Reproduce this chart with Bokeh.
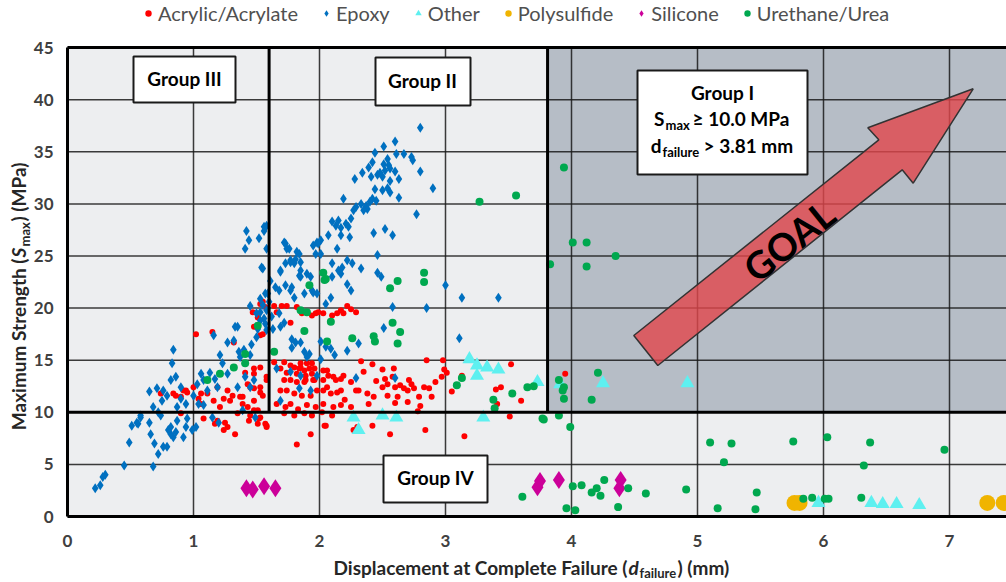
import math
from bokeh.plotting import figure
from bokeh.models import (ColumnDataSource, Legend, LegendItem, Label, BoxAnnotation)
from bokeh.core.properties import value
from bokeh.embed import file_html
from bokeh.resources import INLINE

# ---------------- data ----------------
epoxy_x = [2.80,2.60,2.51,2.44,2.61,2.67,2.73,2.74,2.54,2.42,2.39,2.51,2.55,2.56,2.52,2.48,2.46,2.60,2.63,2.56,2.50,2.34,2.28,2.41,2.80,2.90,2.44,2.50,2.54,2.56,2.63,2.19,2.45,2.42,2.33,2.37,2.29,2.27,2.38,2.35,2.40,2.77,2.25,2.10,2.15,2.13,2.17,2.21,2.23,2.52,2.58,2.43,2.07,2.17,2.24,1.98,2.01,1.72,1.74,2.14,1.95,1.97,2.01,2.46,1.82,1.77,1.80,1.85,2.22,2.26,2.10,2.18,2.33,2.17,2.46,2.49,1.84,1.93,2.22,2.25,1.95,3.00,3.13,1.78,
           1.42,1.44,1.41,1.52,1.56,1.58,1.58,1.54,1.61,1.69,1.76,1.73,1.77,1.81,1.84,1.90,1.85,1.65,1.73,1.59,2.10,2.15,
           0.84,0.83,0.65,0.71,0.76,0.82,0.86,0.79,0.75,0.68,0.72,0.58,0.55,0.51,0.65,0.66,0.82,0.86,0.84,0.92,0.94,0.95,0.87,0.90,0.94,0.90,1.00,1.02,1.03,1.06,1.08,1.13,1.17,1.11,1.19,1.27,1.23,1.27,1.32,1.16,1.21,1.35,1.37,1.41,1.35,1.45,1.45,1.53,1.56,1.51,1.58,1.57,1.53,1.39,
           1.55,1.56,1.73,1.69,1.85,1.68,1.99,1.33,
           0.22,0.26,0.28,0.30,0.45,0.68,0.49,0.56,0.58,0.69,0.72,0.76,0.79,0.80,0.82,0.87,0.99,0.74,1.08,1.04,1.15,1.20,
           3.42,2.58,2.85,2.51,2.31,3.11,2.60,2.22,
           1.78,1.81,1.85,1.78,1.88,1.92,1.90,2.01,2.05,2.09,2.12,2.01,1.72,1.69,1.68,1.77,1.80,1.88,1.94,1.98,2.09,2.05,1.66,1.77,1.85,1.98,1.84,1.69,1.93,2.29,1.50,1.53,1.45,1.48,1.49,
           1.55,1.58,1.60,1.62,1.57,1.63,1.50,1.46,1.40,1.36]
epoxy_y = [37.3,36.0,35.5,34.9,34.8,34.8,34.5,34.2,34.3,34.0,33.5,33.8,33.7,33.4,33.2,33.0,32.8,33.1,32.4,32.2,32.6,33.0,32.4,32.6,33.1,31.5,31.4,31.3,31.5,31.1,30.6,30.5,30.3,30.5,30.0,29.8,29.7,29.4,29.5,29.4,30.2,29.0,28.6,28.3,28.4,27.9,27.7,28.1,27.8,27.6,27.0,27.2,27.0,27.0,26.8,26.3,26.5,26.3,25.7,25.7,26.0,25.2,25.2,25.1,25.4,24.6,24.3,24.4,24.6,24.3,24.3,23.9,23.8,23.3,23.4,23.0,23.1,23.0,22.3,21.7,21.5,22.2,21.0,22.0,
           27.4,26.5,25.7,26.7,27.4,27.9,25.7,23.9,22.6,23.6,25.7,24.3,24.4,24.7,25.2,23.3,23.0,22.0,22.2,21.4,23.0,23.6,
           16.0,14.7,12.0,12.3,12.1,13.1,13.4,11.6,11.1,10.5,10.0,9.7,9.0,8.7,9.0,7.9,8.6,8.1,7.6,7.6,8.6,9.4,10.5,11.3,10.8,12.4,11.6,8.6,12.7,13.7,13.1,13.8,13.2,12.1,12.4,13.7,14.7,16.7,16.9,17.4,15.5,18.2,15.3,13.4,12.4,12.4,20.2,19.6,19.0,18.0,17.9,21.4,20.9,10.2,
           23.8,27.8,26.2,23.5,23.6,21.7,26.2,18.2,
           2.7,3.0,3.8,4.0,4.9,4.8,7.1,8.9,9.5,7.0,6.0,6.7,6.7,8.3,7.9,9.2,8.3,9.7,10.7,10.8,9.5,9.0,
           21.0,20.1,20.0,18.1,16.6,17.1,13.3,15.9,
           17.0,16.7,16.7,16.2,15.8,15.6,15.3,16.8,16.3,16.1,15.5,15.1,18.6,18.2,19.5,21.7,21.0,21.4,21.7,21.4,21.0,20.4,14.2,13.9,13.5,13.5,12.3,11.1,12.1,13.3,19.5,18.8,15.5,13.1,9.5,
           20.3,19.8,20.6,19.2,18.5,18.0,17.2,16.5,16.0,15.8]

acrylic_x = [2.22,2.25,2.29,2.17,2.14,2.19,2.10,2.03,1.99,1.97,1.94,1.90,1.86,1.82,1.74,1.70,1.66,1.64,1.77,1.53,1.57,1.51,1.48,1.55,2.33,
             2.50,2.59,2.58,2.52,2.54,2.50,2.60,2.64,2.67,2.71,2.73,2.75,2.70,2.83,2.87,2.89,2.79,2.85,2.31,2.38,2.43,2.39,2.54,2.62,
             2.05,1.93,1.82,2.30,2.42,2.56,2.84,
             1.69,1.74,1.80,1.84,1.88,1.92,1.94,1.72,1.77,1.82,1.89,1.95,2.03,2.07,2.13,2.17,1.69,1.74,1.80,1.86,1.93,1.98,2.03,2.09,2.14,1.66,1.73,1.77,1.83,1.90,1.97,2.03,2.11,2.17,1.72,1.80,1.88,1.94,2.02,2.10,1.64,1.72,1.85,1.94,2.06,
             1.02,1.15,1.32,0.74,0.86,0.92,1.08,1.17,1.25,1.33,1.24,1.31,1.37,1.19,1.43,1.48,1.53,1.55,1.48,1.43,1.39,1.51,1.45,1.44,1.52,1.57,1.53,1.48,1.41,1.58,0.94,1.04,1.06,1.55,1.47,1.53,
             1.24,2.04,2.27,3.15,3.51,1.58,
             2.98,2.99,3.01,2.97,3.13,3.52,3.44,3.40,3.41,3.60,3.95,2.78,
             1.48,1.58,1.45,1.53,1.39,1.48,1.53,1.51,1.58,1.35,1.29,1.27,1.21,1.16,1.11,1.00,0.95,0.90,0.84,0.90,1.06,1.19,1.27,
             1.77,1.85,1.90,1.96,1.82,1.89,1.88,1.96,2.03,2.11,2.19,2.25,2.06,2.17,2.29,
             2.35,2.42,2.45,2.20,2.25,2.60,2.70,2.80,2.92,3.05]
acrylic_y = [20.2,19.9,19.6,19.8,19.5,19.5,19.3,19.5,19.6,19.5,19.3,19.6,19.5,20.1,20.2,20.2,19.6,20.2,18.6,20.4,20.1,19.1,18.2,17.5,14.9,
             14.1,14.2,13.4,13.2,12.7,12.4,12.4,12.6,12.3,13.1,12.7,12.3,12.1,12.4,12.3,11.5,11.5,15.0,12.1,11.8,11.5,10.8,11.6,11.5,
             8.7,7.9,6.9,8.6,8.7,7.9,8.3,
             14.2,13.8,14.3,14.2,14.0,14.2,13.7,13.1,13.1,12.9,13.1,13.1,13.1,13.5,13.1,13.2,12.1,12.1,11.8,11.6,11.6,12.1,12.1,11.8,11.9,10.8,10.5,10.8,10.3,10.7,10.5,10.8,10.5,10.7,9.9,9.7,9.9,9.7,10.0,9.7,14.8,14.8,14.7,14.7,14.0,
             17.5,17.7,16.7,11.8,11.6,12.1,9.4,8.9,9.0,7.9,11.3,11.6,11.5,12.4,12.7,12.3,12.4,11.6,11.1,10.5,10.8,10.2,9.7,9.2,9.4,8.9,14.3,14.2,13.8,13.4,12.1,11.3,11.8,20.6,19.6,17.4,
             8.3,8.7,8.3,7.7,9.6,8.7,
             15.0,14.1,13.8,13.4,13.5,14.6,12.4,12.2,10.8,11.1,13.7,10.1,
             13.7,13.1,12.4,11.9,11.5,10.2,9.5,8.9,8.6,9.9,11.1,12.1,10.5,11.1,11.8,12.4,11.9,11.5,11.8,9.9,10.8,9.2,8.6,
             14.5,14.3,14.7,14.2,13.7,13.5,12.9,13.1,14.0,13.4,13.5,12.9,12.4,12.1,12.1,
             13.9,14.6,13.0,11.2,10.5,10.9,11.0,10.6,12.9,12.0]

other_x = [3.19,3.25,3.25,3.33,3.42,3.73,3.91,4.25,4.92,2.27,2.31,2.50,2.61,3.30,5.96,6.38,6.47,6.58,6.76]
other_y = [15.1,14.5,13.5,14.3,14.1,12.9,12.7,12.8,12.8,9.5,8.3,9.7,9.5,9.5,1.3,1.3,1.2,1.2,1.1]

polysulfide_x = [5.77,5.81,7.30,7.43]
polysulfide_y = [1.3,1.3,1.3,1.3]

silicone_x = [1.42,1.47,1.56,1.65,3.73,3.75,3.90,4.39,4.38]
silicone_y = [2.7,2.6,2.9,2.7,2.8,3.4,3.5,3.5,2.7]

urethane_x = [3.94,4.01,4.12,3.83,4.12,4.35,3.90,3.93,3.94,4.16,4.21,3.90,3.94,3.27,3.56,2.83,2.83,2.62,2.56,1.92,2.03,2.04,2.09,2.58,2.64,2.62,2.26,2.43,2.44,2.06,3.13,3.09,3.53,3.38,3.39,3.65,3.70,3.77,3.99,2.05,1.85,1.90,1.88,1.51,1.64,1.41,1.41,1.32,1.21,1.11,
              3.61,4.01,4.08,3.96,4.03,4.16,4.20,4.23,4.26,4.37,4.45,4.59,4.91,5.10,5.27,5.21,5.16,5.47,5.46,5.76,5.84,5.91,6.01,6.04,6.03,6.30,6.37,6.32,6.96,3.78]
urethane_y = [33.5,26.3,26.3,24.2,24.0,25.0,13.1,12.1,11.3,11.2,13.8,9.7,12.4,30.2,30.8,23.4,22.5,22.6,21.9,22.2,23.4,22.7,18.7,18.6,17.7,16.6,17.1,17.3,16.8,16.8,13.3,12.6,11.8,11.2,10.4,12.4,12.5,9.4,8.6,22.8,19.8,19.6,17.8,18.3,15.8,15.6,14.7,14.3,13.7,13.1,
              1.9,2.9,3.0,0.8,0.6,2.3,2.7,2.0,3.5,0.9,2.7,2.2,2.6,7.1,7.0,5.2,0.8,2.3,0.7,7.2,1.7,1.8,1.7,1.7,7.6,1.8,7.1,4.9,6.4,9.3]

x_ticks = [0, 1, 2, 3, 4, 5, 6, 7]
y_ticks = [0, 5, 10, 15, 20, 25, 30, 35, 40, 45]
s_max_limit = 10.0
d_fail_limit = 3.81
group3_limit = 1.6

# ---------------- geometry (page pixels of the reference) ----------------
W, H = 1006, 582
X0, Y0 = 67, 516          # page px of data origin
SX, SY = 126.0, 10.42     # px per unit
def dx(px): return (px - X0) / SX
def dy(py): return (Y0 - py) / SY
x_end = dx(W)
y_top = y_ticks[-1]

FONT = "Lato"
p = figure(width=W, height=H, output_backend="svg", toolbar_location=None,
           x_range=(dx(0), dx(W)), y_range=(dy(H), dy(0)),
           min_border=0, background_fill_color="white", border_fill_color="white")
p.outline_line_color = None
p.axis.visible = False
p.grid.visible = False

# plot-area background and Group I shading
p.add_layout(BoxAnnotation(left=0, right=x_end, bottom=0, top=y_top,
                           fill_color="#edeef0", fill_alpha=1.0, line_color=None, level="image"))
p.add_layout(BoxAnnotation(left=d_fail_limit, right=x_end, bottom=s_max_limit, top=y_top,
                           fill_color="#b6bdc6", fill_alpha=1.0, line_color=None, level="image"))

# grid lines from the tick lists
gv = [t for t in x_ticks if t > 0]
rg = p.segment(x0=gv, y0=[0] * len(gv), x1=gv, y1=[y_top] * len(gv),
               line_color="#1a1a1a", line_width=1.5, line_alpha=0.85)
rg.level = "underlay"
rh = p.segment(x0=[0] * len(y_ticks), y0=y_ticks, x1=[x_end] * len(y_ticks), y1=y_ticks,
               line_color="#1a1a1a", line_width=1.5, line_alpha=0.85)
rh.level = "underlay"

# tick labels from the tick lists
p.text(x=x_ticks, y=[dy(540)] * len(x_ticks), text=[str(t) for t in x_ticks],
       text_align="center", text_baseline="middle", text_font=value(FONT),
       text_font_style="bold", text_font_size="17px", text_color="#404040")
p.text(x=[dx(53)] * len(y_ticks), y=y_ticks, text=[str(t) for t in y_ticks],
       text_align="right", text_baseline="middle", text_font=value(FONT),
       text_font_style="bold", text_font_size="17px", text_color="#404040")

# ---------------- scatter ----------------
def src(x, y): return ColumnDataSource(dict(x=x, y=y))
r_acr = p.scatter("x", "y", source=src(acrylic_x, acrylic_y), marker="circle", size=6,
                  fill_color="#ff0000", line_color=None)
r_epo = p.scatter("x", "y", source=src(epoxy_x, epoxy_y), marker="diamond", size=10,
                  fill_color="#0070c0", line_color=None)
r_oth = p.scatter("x", "y", source=src(other_x, other_y), marker="triangle", size=14,
                  fill_color="#5ef0f0", line_color=None)
r_pol = p.scatter("x", "y", source=src(polysulfide_x, polysulfide_y), marker="circle", size=16,
                  fill_color="#f0b400", line_color=None)
r_sil = p.scatter("x", "y", source=src(silicone_x, silicone_y), marker="diamond", size=18,
                  fill_color="#cc0099", line_color=None)
r_ure = p.scatter("x", "y", source=src(urethane_x, urethane_y), marker="circle", size=8,
                  fill_color="#00a84f", line_color=None)

# heavy group boundary lines and frame borders (left, top, bottom)
p.segment(x0=[group3_limit, d_fail_limit, 0, 0, 0, 0],
          y0=[s_max_limit, s_max_limit, s_max_limit, 0, y_top, 0],
          x1=[group3_limit, d_fail_limit, x_end, x_end, x_end, 0],
          y1=[y_top, y_top, s_max_limit, 0, y_top, y_top],
          line_color="black", line_width=3)

# GOAL arrow
arrow_px = [(633.3, 335), (878.3, 139.3), (867.3, 127.3), (972.7, 88.3),
            (912.7, 182.7), (901.7, 169.3), (657.3, 365)]
p.patch([dx(a) for a, b in arrow_px], [dy(b) for a, b in arrow_px],
        fill_color="#e2464b", fill_alpha=0.8, line_color="#333333", line_width=1.5)
p.add_layout(Label(x=dx(788), y=dy(240), text="GOAL", angle=0.674, text_align="center",
                   text_baseline="middle", text_font=FONT, text_font_style="bold",
                   text_font_size="38px", text_color="black"))

# group boxes
def box(l, t, r, b):
    p.add_layout(BoxAnnotation(left=dx(l), right=dx(r), top=dy(t), bottom=dy(b),
                               fill_color="white", fill_alpha=1.0, line_color="#1a1a1a",
                               line_width=2, line_alpha=1.0))
def txt(px, py, s, size="19px", style="bold", align="center", angle=0.0, color="black"):
    p.add_layout(Label(x=dx(px), y=dy(py), text=s, text_align=align, text_baseline="middle",
                       text_font=FONT, text_font_style=style, text_font_size=size,
                       text_color=color, angle=angle))

box(133, 56, 235, 102); txt(184, 78, "Group III")
box(375, 57, 470, 105); txt(422, 80, "Group II")
box(383, 455, 487, 502); txt(435, 477, "Group IV")
box(637, 70, 807, 174); txt(722, 92, "Group I")
txt(664, 118, "S", align="right")
txt(665, 124, "max", size="13px", align="left")
txt(692, 118, "\u2265 10.0 MPa", align="left")
txt(661, 145, "d", align="right")
txt(662, 151, "failure", size="13px", align="left")
txt(703, 145, "> 3.81 mm", align="left")

# axis titles (composed for subscript / italics)
TC = "#262626"
txt(627, 567, "Displacement at Complete Failure (", align="right", color=TC)
txt(628, 567, "d", align="left", style="bold italic", color=TC)
txt(639, 572, "failure", size="13px", align="left", color=TC)
txt(677, 567, ") (mm)", align="left", color=TC)

A = math.pi / 2
txt(18, 258, "Maximum Strength (", align="right", angle=A, color=TC)
txt(18, 257, "S", align="left", angle=A, style="bold italic", color=TC)
txt(24, 246, "max", size="13px", align="left", angle=A, color=TC)
txt(18, 221, ") (MPa)", align="left", angle=A, color=TC)

# legend
legend = Legend(items=[LegendItem(label="Acrylic/Acrylate", renderers=[r_acr]),
                       LegendItem(label="Epoxy", renderers=[r_epo]),
                       LegendItem(label="Other", renderers=[r_oth]),
                       LegendItem(label="Polysulfide", renderers=[r_pol]),
                       LegendItem(label="Silicone", renderers=[r_sil]),
                       LegendItem(label="Urethane/Urea", renderers=[r_ure])],
                orientation="horizontal", location=(140, H - 25),
                label_text_font=FONT, label_text_font_size="20px", label_text_color="#505050",
                glyph_width=16, glyph_height=20, label_standoff=2, spacing=20,
                padding=0, margin=0, background_fill_alpha=0, border_line_color=None)
p.add_layout(legend, "center")

open("out.html", "w").write(file_html(p, INLINE))
